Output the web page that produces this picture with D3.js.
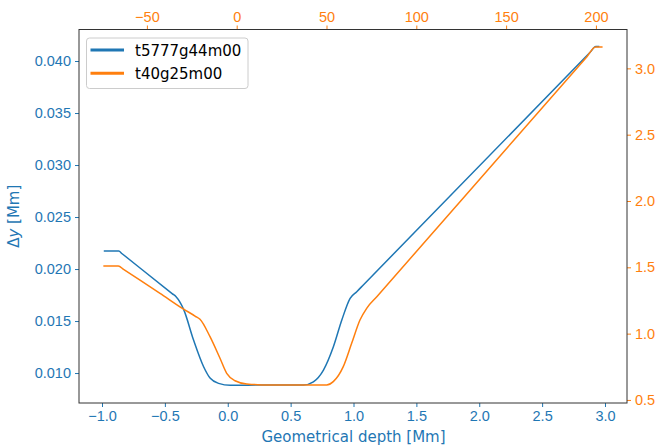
<!DOCTYPE html>
<html>
<head>
<meta charset="utf-8">
<script src="https://cdn.jsdelivr.net/npm/d3@7"></script>
<style>
  body { margin: 0; background: #fff; }
  svg { display: block; font-family: "DejaVu Sans", sans-serif; }
</style>
</head>
<body>
<div id="chart"></div>
<script>
// blue series: bottom axis (depth, Mm) vs left axis (dy, Mm)
var blueDepth = [-0.986, -0.867, -0.84, -0.44, -0.411, -0.351, -0.272, -0.192, -0.139, -0.073, 0.020, 0.300, 0.602, 0.681, 0.761, 0.840, 0.907, 0.973, 1.026, 1.08, 2.88, 2.927, 2.955];
var blueDy = [0.02173, 0.02173, 0.02147, 0.01762, 0.01734, 0.01612, 0.01317, 0.01061, 0.00949, 0.00901, 0.00882, 0.00885, 0.00885, 0.00916, 0.01029, 0.01253, 0.01510, 0.01718, 0.01782, 0.01849, 0.04081, 0.04139, 0.04139];

// orange series: top axis vs right axis
var orangeTop = [-74.25, -65.90, -63.0, -42.69, -29.72, -23.0, -20.43, -14.86, -9.30, -5.57, -0.95, 5.57, 18.53, 50.09, 53.77, 59.33, 64.01, 68.63, 72.36, 78.0, 195.0, 199.8, 203.7];
var orangeRight = [1.510, 1.510, 1.484, 1.304, 1.186, 1.131, 1.108, 0.977, 0.814, 0.701, 0.645, 0.621, 0.613, 0.613, 0.638, 0.751, 0.927, 1.103, 1.191, 1.278, 3.088, 3.162, 3.162];

// tick labels
var bottomTicks = [-1.0, -0.5, 0.0, 0.5, 1.0, 1.5, 2.0, 2.5, 3.0];
var leftTicks = [0.010, 0.015, 0.020, 0.025, 0.030, 0.035, 0.040];
var topTicks = [-50, 0, 50, 100, 150, 200];
var rightTicks = [0.5, 1.0, 1.5, 2.0, 2.5, 3.0];

var seriesNames = ["t5777g44m00", "t40g25m00"];
var blue = "#1f77b4", orange = "#ff7f0e";

var width = 659, height = 448;
var margin = { top: 29.5, right: 32, bottom: 45, left: 79 };
var innerW = width - margin.left - margin.right;
var innerH = height - margin.top - margin.bottom;

var xBottom = d3.scaleLinear().domain([-1.183, 3.175]).range([0, innerW]);
var yLeft = d3.scaleLinear().domain([0.00712, 0.04303]).range([innerH, 0]);
var xTop = d3.scaleLinear().domain([-87.8, 217.3]).range([0, innerW]);
var yRight = d3.scaleLinear().domain([0.477, 3.293]).range([innerH, 0]);

var svg = d3.select("#chart").append("svg")
    .attr("width", width)
    .attr("height", height);

var g = svg.append("g")
    .attr("transform", `translate(${margin.left},${margin.top})`);

// styling helper for axes
function styleAxis(sel, color) {
    sel.select(".domain").remove();
    sel.selectAll("line").attr("stroke", color).attr("stroke-width", 1);
    sel.selectAll("text").attr("fill", color).style("font-size", "14.5px");
}

var bottomAxis = g.append("g")
    .attr("transform", `translate(0,${innerH})`)
    .call(d3.axisBottom(xBottom).tickValues(bottomTicks).tickFormat(d3.format(".1f")).tickSize(4).tickPadding(4));
styleAxis(bottomAxis, blue);

var leftAxis = g.append("g")
    .call(d3.axisLeft(yLeft).tickValues(leftTicks).tickFormat(d3.format(".3f")).tickSize(4).tickPadding(4));
styleAxis(leftAxis, blue);

var topAxis = g.append("g")
    .call(d3.axisTop(xTop).tickValues(topTicks).tickFormat(d3.format("d")).tickSize(4).tickPadding(4));
styleAxis(topAxis, orange);

var rightAxis = g.append("g")
    .attr("transform", `translate(${innerW},0)`)
    .call(d3.axisRight(yRight).tickValues(rightTicks).tickFormat(d3.format(".1f")).tickSize(4).tickPadding(4));
styleAxis(rightAxis, orange);

// lines
var blueLine = d3.line()
    .x((d, i) => xBottom(blueDepth[i]))
    .y(d => yLeft(d))
    .curve(d3.curveMonotoneX);

var orangeLine = d3.line()
    .x((d, i) => xTop(orangeTop[i]))
    .y(d => yRight(d))
    .curve(d3.curveMonotoneX);

g.append("path")
    .datum(blueDy)
    .attr("fill", "none")
    .attr("stroke", blue)
    .attr("stroke-width", 1.5)
    .attr("d", blueLine);

g.append("path")
    .datum(orangeRight)
    .attr("fill", "none")
    .attr("stroke", orange)
    .attr("stroke-width", 1.5)
    .attr("d", orangeLine);

// frame
g.append("rect")
    .attr("width", innerW)
    .attr("height", innerH)
    .attr("fill", "none")
    .attr("stroke", "#333")
    .attr("stroke-width", 1);

// axis labels
g.append("text")
    .attr("x", xBottom(1.0))
    .attr("y", innerH + 39)
    .attr("text-anchor", "middle")
    .attr("fill", blue)
    .style("font-size", "15px")
    .text("Geometrical depth [Mm]");

var yLab = svg.append("text")
    .attr("transform", `translate(19,${margin.top + innerH / 2}) rotate(-90)`)
    .attr("text-anchor", "middle")
    .attr("fill", blue)
    .style("font-size", "15px");
yLab.append("tspan").text("Δ");
yLab.append("tspan").style("font-style", "italic").text("y");
yLab.append("tspan").text(" [Mm]");

// legend
var legend = g.append("g").attr("transform", "translate(7.5,8.5)");
legend.append("rect")
    .attr("width", 161.5)
    .attr("height", 50.5)
    .attr("rx", 3)
    .attr("fill", "#fff")
    .attr("fill-opacity", 0.8)
    .attr("stroke", "#ccc")
    .attr("stroke-width", 1);

var legendColors = [blue, orange];
seriesNames.forEach(function (name, i) {
    var yy = 12 + i * 23.3;
    legend.append("line")
        .attr("x1", 4)
        .attr("x2", 37.5)
        .attr("y1", yy)
        .attr("y2", yy)
        .attr("stroke", legendColors[i])
        .attr("stroke-width", 3);
    legend.append("text")
        .attr("x", 48.5)
        .attr("y", yy + 5.5)
        .attr("fill", "#000")
        .style("font-size", "15px")
        .text(name);
});
</script>
</body>
</html>
